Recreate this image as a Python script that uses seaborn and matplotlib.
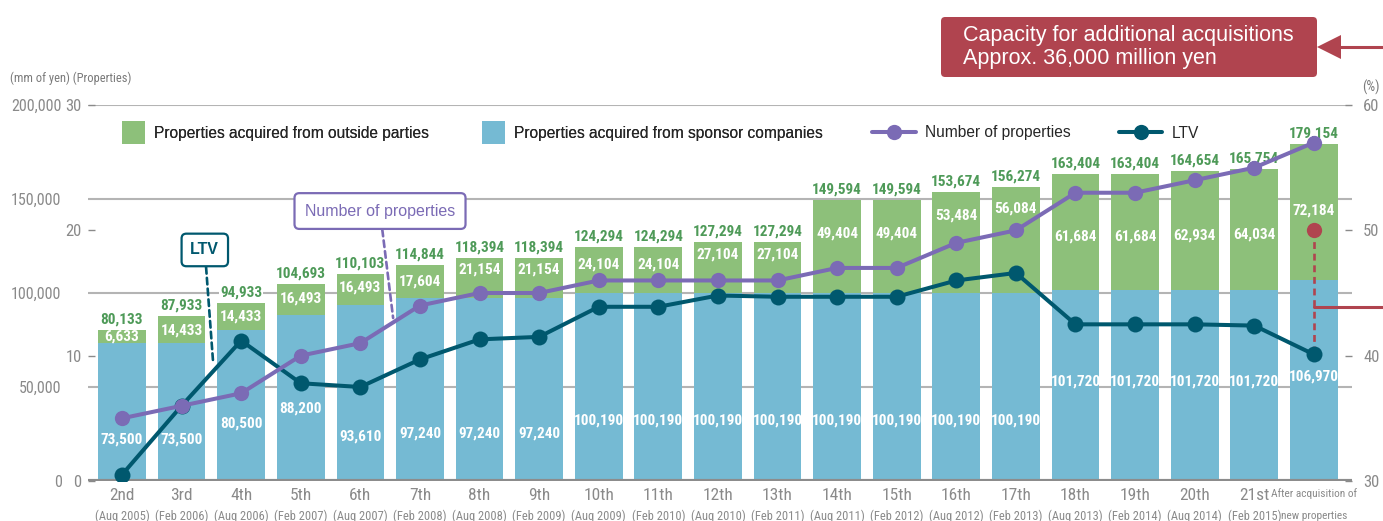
import matplotlib
matplotlib.use("Agg")
import matplotlib.pyplot as plt
from matplotlib import font_manager, transforms
from matplotlib.patches import FancyBboxPatch, Polygon, Rectangle, Patch
from matplotlib.lines import Line2D
from matplotlib.legend_handler import HandlerPatch
import numpy as np
import pandas as pd
import seaborn as sns

# ---------------- data ----------------
periods = ["2nd", "3rd", "4th", "5th", "6th", "7th", "8th", "9th", "10th", "11th",
           "12th", "13th", "14th", "15th", "16th", "17th", "18th", "19th", "20th",
           "21st", "After acquisition of"]
period_dates = ["(Aug 2005)", "(Feb 2006)", "(Aug 2006)", "(Feb 2007)", "(Aug 2007)",
                "(Feb 2008)", "(Aug 2008)", "(Feb 2009)", "(Aug 2009)", "(Feb 2010)",
                "(Aug 2010)", "(Feb 2011)", "(Aug 2011)", "(Feb 2012)", "(Aug 2012)",
                "(Feb 2013)", "(Aug 2013)", "(Feb 2014)", "(Aug 2014)", "(Feb 2015)",
                "new properties"]
sponsor_values = [73500, 73500, 80500, 88200, 93610, 97240, 97240, 97240, 100190, 100190,
                  100190, 100190, 100190, 100190, 100190, 100190, 101720, 101720, 101720,
                  101720, 106970]
outside_values = [6633, 14433, 14433, 16493, 16493, 17604, 21154, 21154, 24104, 24104,
                  27104, 27104, 49404, 49404, 53484, 56084, 61684, 61684, 62934, 64034,
                  72184]
num_properties = [5, 6, 7, 10, 11, 14, 15, 15, 16, 16, 16, 16, 17, 17, 19, 20, 23, 23, 24,
                  25, 27]
ltv_values = [30.5, 36.0, 41.2, 37.8, 37.5, 39.7, 41.3, 41.5, 43.9, 43.9, 44.8, 44.7, 44.7,
              44.7, 46.0, 46.6, 42.5, 42.5, 42.5, 42.4, 40.1]
ltv_capacity = 50.0
capacity_text = "Capacity for additional acquisitions\nApprox. 36,000 million yen"

# ---------------- style ----------------
outside_label_frac = [0.5, 0.47, 0.5, 0.55, 0.55, 0.49, 0.71, 0.71, 0.63, 0.63, 0.74, 0.74,
                      0.64, 0.64, 0.77, 0.80, 0.455, 0.455, 0.46, 0.455, 0.51]
sponsor_label_frac = [0.30, 0.30, 0.377, 0.44, 0.25, 0.257, 0.257, 0.257, 0.32, 0.32, 0.32,
                      0.32, 0.32, 0.32, 0.32, 0.32, 0.52, 0.52, 0.52, 0.52, 0.52]

GREEN = "#8DC07A"
BLUE = "#75BAD3"
PURPLE = "#7B6BB5"
TEAL = "#00586E"
GREEN_TXT = "#4E9A58"
RED = "#B0444F"
GRAY = "#8A8A8A"
GRID = "#B4B4B4"

sns.set_theme(style="white")
avail = {f.name for f in font_manager.fontManager.ttflist}


def pick(cands):
    for c in cands:
        if c in avail:
            return c
    return "DejaVu Sans"


NARROW = pick(["Liberation Sans Narrow", "Roboto Condensed", "Open Sans Condensed",
               "Liberation Sans"])
SANS = pick(["Liberation Sans", "Arimo", "DejaVu Sans"])
plt.rcParams["font.family"] = [SANS, "DejaVu Sans"]

df = pd.DataFrame({"period": periods, "sponsor": sponsor_values, "outside": outside_values})
df["total"] = df["sponsor"] + df["outside"]
n = len(df)
x = np.arange(n)

W, H = 1383, 521
fig = plt.figure(figsize=(W / 100, H / 100), dpi=100)
ax = fig.add_axes([88 / W, 40 / H, 1264 / W, 376 / H])

sns.barplot(data=df, x="period", y="total", order=periods, color=GREEN, saturation=1,
            width=0.8, errorbar=None, edgecolor="none", linewidth=0, ax=ax, zorder=2)
sns.barplot(data=df, x="period", y="sponsor", order=periods, color=BLUE, saturation=1,
            width=0.8, errorbar=None, edgecolor="none", linewidth=0, ax=ax, zorder=2)

ax.set_ylim(0, 200000)
ax.set_yticks([0, 50000, 100000, 150000, 200000])
ax.set_yticklabels([f"{v:,}" for v in [0, 50000, 100000, 150000, 200000]],
                   family=NARROW, fontsize=11.5, color=GRAY)
ax.tick_params(axis="y", length=0, pad=19)
ax.yaxis.grid(True, color=GRID, lw=1.5)
ax.set_axisbelow(True)
ax.set_xlabel("")
ax.set_ylabel("")
ax.set_xticks(x)
ax.set_xticklabels(periods, family=NARROW, fontsize=12.5, color=GRAY)
ax.get_xticklabels()[-1].set_fontsize(8.2)
ax.tick_params(axis="x", length=0, pad=5)
ax.axhline(0, color="#8C8C8C", lw=3, zorder=3)
for s in ax.spines.values():
    s.set_visible(False)

trans = transforms.blended_transform_factory(ax.transData, ax.transAxes)
for i, d in enumerate(period_dates):
    ax.text(i, -0.093, d, transform=trans, ha="center", va="center",
            family=NARROW, fontsize=9 if i < n - 1 else 8.2, color=GRAY)

# value labels
for i, row in df.iterrows():
    ax.annotate(f"{row['total']:,}", (i, row["total"]), xytext=(0, 2.5),
                textcoords="offset points", ha="center", va="bottom", family=NARROW,
                fontsize=11, fontweight="bold", color=GREEN_TXT, zorder=5,
                bbox=dict(fc="white", ec="none", pad=0.8))
    ax.text(i, row["sponsor"] + outside_label_frac[i] * row["outside"], f"{row['outside']:,}",
            ha="center", va="center", family=NARROW, fontsize=11, fontweight="bold",
            color="white", zorder=5)
    ax.text(i, sponsor_label_frac[i] * row["sponsor"], f"{row['sponsor']:,}",
            ha="center", va="center", family=NARROW, fontsize=11, fontweight="bold",
            color="white", zorder=5)

# callouts
ax.annotate("LTV", xy=(1.53, 62800), xytext=(1.39, 122900), textcoords="data",
            ha="center", va="center", fontsize=11.5, fontweight="bold", color=TEAL, zorder=6,
            bbox=dict(boxstyle="round,pad=0.55,rounding_size=0.3", fc="white", ec=TEAL, lw=1.6),
            arrowprops=dict(arrowstyle="-", color=TEAL, lw=1.9, linestyle=(0, (2.5, 1.6)),
                            shrinkA=0, shrinkB=0))
ax.annotate("Number of properties", xy=(4.55, 86700), xytext=(4.33, 143600),
            textcoords="data", ha="center", va="center", fontsize=11.5, color=PURPLE, zorder=6,
            bbox=dict(boxstyle="round,pad=0.65,rounding_size=0.3", fc="white", ec=PURPLE, lw=1.6),
            arrowprops=dict(arrowstyle="-", color=PURPLE, lw=1.9, linestyle=(0, (2.5, 1.6)),
                            shrinkA=0, shrinkB=0))

# LTV axis (right)
ax_l = ax.twinx()
ax_l.set_ylim(30, 60)
ax_l.plot([n - 1, n - 1], [ltv_capacity, ltv_values[-1]], color=RED, lw=1.9,
          linestyle=(0, (2.6, 1.8)), zorder=2)
ax_l.plot([n - 1], [ltv_capacity], "o", color=RED, ms=11, mew=0, zorder=3)
sns.lineplot(x=x, y=ltv_values, ax=ax_l, color=TEAL, lw=2.9, marker="o", markersize=11.5,
             markeredgewidth=0, zorder=4)
ax_l.set_yticks([30, 40, 50, 60])
ax_l.set_yticklabels(["30", "40", "50", "60"], family=NARROW, fontsize=12, color=GRAY)
ax_l.tick_params(axis="y", direction="in", length=5, width=1, color=GRAY, pad=8,
                 right=True, left=False)
ax_l.set_ylabel("")
for s in ax_l.spines.values():
    s.set_visible(False)

# properties axis (left, inner)
ax_p = ax.twinx()
ax_p.set_ylim(0, 30)
sns.lineplot(x=x, y=num_properties, ax=ax_p, color=PURPLE, lw=2.9, marker="o",
             markersize=11, markeredgewidth=0, zorder=4)
ax_p.yaxis.tick_left()
ax_p.yaxis.set_label_position("left")
ax_p.set_yticks([0, 10, 20, 30])
ax_p.set_yticklabels(["0", "10", "20", "30"], family=NARROW, fontsize=12, color=GRAY)
ax_p.tick_params(axis="y", direction="in", length=5, width=1, color=GRAY, pad=4.5)
ax_p.set_ylabel("")
for s in ax_p.spines.values():
    s.set_visible(False)

for a in (ax, ax_l, ax_p):
    a.set_xlim(-0.57, n - 1 + 0.64)

# unit labels
fig.text(10 / W, 1 - 78 / H, "(mm of yen) (Properties)", family=NARROW, fontsize=9,
         color="#7A7A7A", ha="left", va="center")
fig.text(1371 / W, 1 - 87 / H, "(%)", family=NARROW, fontsize=10, color="#7A7A7A",
         ha="center", va="center")


# legends
class SquareHandler(HandlerPatch):
    def create_artists(self, legend, orig_handle, xdescent, ydescent, width, height,
                       fontsize, trans):
        r = Rectangle((-xdescent, -ydescent + height / 2 - width / 2), width, width,
                      facecolor=orig_handle.get_facecolor(), edgecolor="none",
                      transform=trans)
        return [r]


leg1 = fig.legend(handles=[Patch(facecolor=GREEN, label="Properties acquired from outside parties"),
                           Patch(facecolor=BLUE, label="Properties acquired from sponsor companies")],
                  loc="center left", bbox_to_anchor=(122 / W, 1 - 133 / H), ncol=2,
                  frameon=False, fontsize=11.2, handlelength=1.5, handleheight=1.0,
                  handletextpad=0.55, columnspacing=3.4, borderpad=0, borderaxespad=0,
                  handler_map={Patch: SquareHandler()})
leg2 = fig.legend(handles=[Line2D([], [], color=PURPLE, lw=2.9, marker="o", ms=11, mew=0,
                                  label="Number of properties"),
                           Line2D([], [], color=TEAL, lw=2.9, marker="o", ms=11, mew=0,
                                  label="LTV")],
                  loc="center left", bbox_to_anchor=(872 / W, 1 - 133 / H), ncol=2,
                  frameon=False, fontsize=11.2, handlelength=2.8, handletextpad=0.6,
                  columnspacing=3.1, borderpad=0, borderaxespad=0)
fig.add_artist(leg1)

# capacity box and arrows
box = FancyBboxPatch((941 / W, 1 - 77 / H), 376 / W, 60 / H,
                     boxstyle="round,pad=0,rounding_size=0.003", mutation_aspect=W / H,
                     transform=fig.transFigure, fc=RED, ec="none")
fig.add_artist(box)
fig.text(963 / W, 1 - 47 / H, capacity_text, color="white", fontsize=15.5, ha="left",
         va="center", linespacing=1.1)
fig.add_artist(Polygon([(1317 / W, 1 - 47 / H), (1341 / W, 1 - 35 / H), (1341 / W, 1 - 59 / H)],
                       closed=True, fc=RED, ec="none", transform=fig.transFigure))
fig.add_artist(Line2D([1340 / W, 1], [1 - 47 / H, 1 - 47 / H], color=RED, lw=2.2,
                      transform=fig.transFigure))
fig.add_artist(Line2D([1314 / W, 1], [1 - 307 / H, 1 - 307 / H], color=RED, lw=2.2,
                      transform=fig.transFigure))

fig.savefig("out.png", dpi=100)
